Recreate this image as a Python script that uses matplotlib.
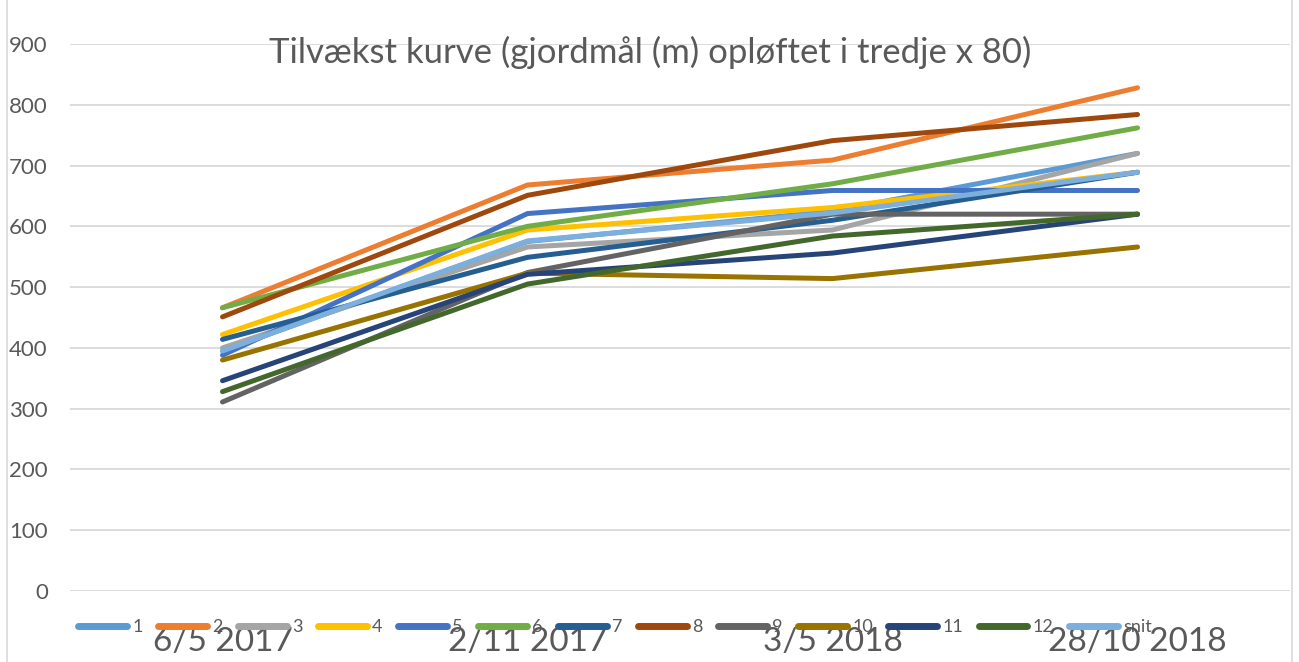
import matplotlib
matplotlib.use("Agg")
import matplotlib.pyplot as plt
from matplotlib.patches import Rectangle

categories = ["6/5 2017", "2/11 2017", "3/5 2018", "28/10 2018"]
series_names = ["1", "2", "3", "4", "5", "6", "7", "8", "9", "10", "11", "12", "snit"]
s1 = [395, 575, 625, 720]
s2 = [466, 668, 709, 828]
s3 = [400, 566, 594, 720]
s4 = [422, 594, 631, 689]
s5 = [388, 621, 659, 659]
s6 = [466, 600, 670, 762]
s7 = [414, 549, 610, 689]
s8 = [451, 651, 741, 784]
s9 = [311, 524, 620, 620]
s10 = [380, 523, 514, 566]
s11 = [346, 521, 556, 620]
s12 = [328, 505, 584, 620]
snit = [395, 576, 622, 689]
series_values = [s1, s2, s3, s4, s5, s6, s7, s8, s9, s10, s11, s12, snit]
colors = ["#5B9BD5", "#ED7D31", "#A5A5A5", "#FFC000", "#4472C4", "#70AD47",
          "#255E91", "#9E480E", "#636363", "#997300", "#264478", "#43682B", "#7CAFDD"]
y_ticks = [0, 100, 200, 300, 400, 500, 600, 700, 800, 900]

plt.rcParams['font.family'] = ['Lato', 'DejaVu Sans']
W, H = 1299, 662
fig = plt.figure(figsize=(W / 100, H / 100), dpi=100)
ax = fig.add_axes([70 / W, (H - 591) / H, (1290 - 70) / W, (591 - 44) / H])

x = list(range(len(categories)))
for name, vals, c in zip(series_names, series_values, colors):
    ax.plot(x, vals, color=c, lw=3.6, solid_capstyle='round', solid_joinstyle='round',
            label=name, zorder=3)

ax.set_xlim(-0.5, len(categories) - 0.5)
ax.set_ylim(0, 900)
ax.set_yticks(y_ticks)
ax.set_xticks(x)
ax.set_xticklabels(categories)
ax.grid(axis='y', color='#D9D9D9', lw=1.3, zorder=0)
for sp in ax.spines.values():
    sp.set_visible(False)
ax.tick_params(axis='both', length=0)
ax.tick_params(axis='y', labelsize=16, labelcolor='#595959', pad=16)
ax.tick_params(axis='x', labelsize=24, labelcolor='#595959', pad=26)

fig.text(650 / W, 1 - 52 / H, "Tilvækst kurve (gjordmål (m) opløftet i tredje x 80)",
         ha='center', va='center', fontsize=25, color='#595959')

leg = fig.legend(loc='center', bbox_to_anchor=(615 / W, 1 - 627 / H), ncol=13,
                 frameon=False, fontsize=13, handlelength=2.7, handletextpad=0.3,
                 columnspacing=0.85, labelcolor='#595959')
for h in leg.get_lines():
    h.set_linewidth(5)
    h.set_solid_capstyle('round')

fig.patches.append(Rectangle((7 / W, -0.01), (1292 - 7) / W, 1.02, transform=fig.transFigure,
                             fill=False, edgecolor='#D9D9D9', lw=1.2))

fig.savefig("out.png", dpi=100)
